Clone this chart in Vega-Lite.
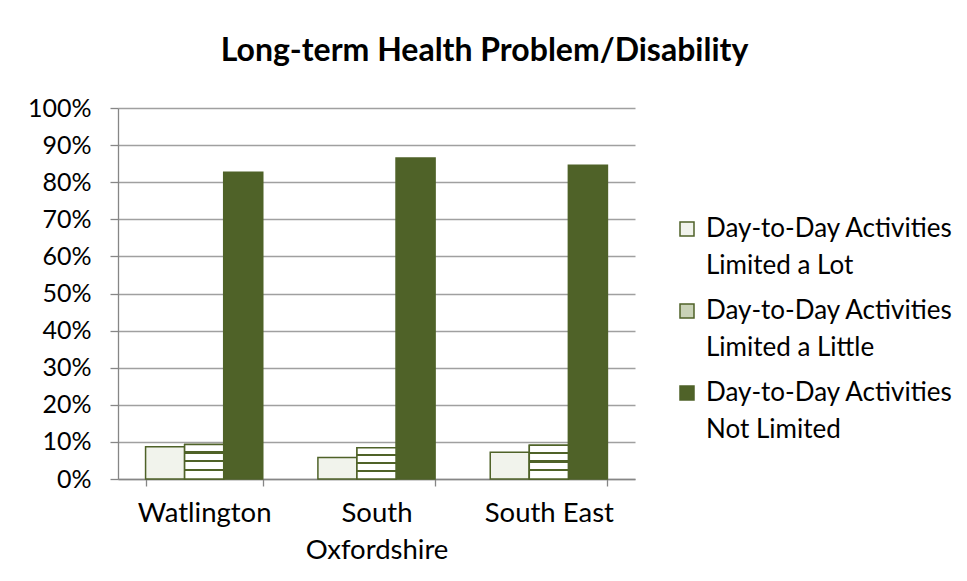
{
  "$schema": "https://vega.github.io/schema/vega-lite/v6.json",
  "autosize": "none",
  "width": 517,
  "height": 371,
  "padding": {"left": 118, "top": 108, "right": 332, "bottom": 102},
  "background": "white",
  "config": {
    "font": "Lato",
    "view": {"stroke": null},
    "style": {"guide-label": {"lineHeight": 37}},
    "axis": {"labelFont": "Lato", "labelColor": "#000000", "domainColor": "#868686", "tickColor": "#868686", "gridColor": "#a0a0a0", "domainWidth": 1.3, "tickWidth": 1.3, "gridWidth": 1.3}
  },
  "title": {
    "text": "Long-term Health Problem/Disability",
    "font": "Lato",
    "fontSize": 32,
    "fontWeight": "bold",
    "color": "#000000",
    "anchor": "middle",
    "frame": "group",
    "dx": 108,
    "offset": 28
  },
  "data": {
    "values": [
      {"area": "Watlington", "cat": "Day-to-Day Activities Limited a Lot", "value": 8.7},
      {"area": "Watlington", "cat": "Day-to-Day Activities Limited a Little", "value": 9.3},
      {"area": "Watlington", "cat": "Day-to-Day Activities Not Limited", "value": 82.7},
      {"area": "South Oxfordshire", "cat": "Day-to-Day Activities Limited a Lot", "value": 5.8},
      {"area": "South Oxfordshire", "cat": "Day-to-Day Activities Limited a Little", "value": 8.4},
      {"area": "South Oxfordshire", "cat": "Day-to-Day Activities Not Limited", "value": 86.5},
      {"area": "South East", "cat": "Day-to-Day Activities Limited a Lot", "value": 7.2},
      {"area": "South East", "cat": "Day-to-Day Activities Limited a Little", "value": 9.1},
      {"area": "South East", "cat": "Day-to-Day Activities Not Limited", "value": 84.6}
    ]
  },
  "encoding": {
    "x": {
      "field": "area",
      "type": "nominal",
      "sort": ["Watlington", "South Oxfordshire", "South East"],
      "scale": {"paddingInner": 0.32, "paddingOuter": 0.16},
      "axis": {
        "title": null,
        "labelAngle": 0,
        "labelFontSize": 27.5,
        "labelPadding": 13,
        "labelLineHeight": 37,
        "labelExpr": "datum.label == 'South Oxfordshire' ? ['South', 'Oxfordshire'] : datum.label",
        "tickBand": "extent",
        "tickSize": 7,
        "grid": false
      }
    },
    "xOffset": {
      "field": "cat",
      "type": "nominal",
      "sort": ["Day-to-Day Activities Limited a Lot", "Day-to-Day Activities Limited a Little", "Day-to-Day Activities Not Limited"],
      "scale": {"paddingInner": 0, "paddingOuter": 0}
    },
    "y": {
      "field": "value",
      "type": "quantitative",
      "scale": {"domain": [0, 100], "nice": false},
      "axis": {
        "title": null,
        "values": [0, 10, 20, 30, 40, 50, 60, 70, 80, 90, 100],
        "labelExpr": "datum.value + '%'",
        "labelFontSize": 25,
        "tickSize": 8,
        "labelPadding": 19,
        "grid": true
      }
    }
  },
  "layer": [
    {
      "mark": {"type": "bar", "stroke": "#4f6228", "strokeWidth": 1.5},
      "encoding": {
        "fill": {
          "field": "cat",
          "type": "nominal",
          "sort": ["Day-to-Day Activities Limited a Lot", "Day-to-Day Activities Limited a Little", "Day-to-Day Activities Not Limited"],
          "scale": {"range": ["#f1f3ec", "#c9d2b7", "#4f6228"]},
          "legend": {
            "title": null,
            "orient": "none",
            "legendX": 556,
            "legendY": 108,
            "symbolType": "square",
            "symbolSize": 196,
            "symbolStrokeColor": "#4f6228",
            "symbolStrokeWidth": 1.5,
            "labelFont": "Lato",
            "labelFontSize": 26,
            "labelColor": "#000000",
            "labelLimit": 400,
            "labelOffset": 6,
            "rowPadding": 19,
            "labelExpr": "[slice(datum.label, 0, 21), slice(datum.label, 22)]"
          }
        }
      }
    },
    {
      "transform": [{"filter": "datum.cat == 'Day-to-Day Activities Limited a Little'"}],
      "mark": {
        "type": "bar",
        "stroke": "#4f6228",
        "strokeWidth": 1.5,
        "fill": {
          "gradient": "linear", "x1": 0, "y1": 0, "x2": 0, "y2": 1,
          "stops": [
            {"offset": 0, "color": "#ffffff"},
            {"offset": 0.2, "color": "#ffffff"}, {"offset": 0.2, "color": "#4f6228"},
            {"offset": 0.27, "color": "#4f6228"}, {"offset": 0.27, "color": "#ffffff"},
            {"offset": 0.45, "color": "#ffffff"}, {"offset": 0.45, "color": "#4f6228"},
            {"offset": 0.52, "color": "#4f6228"}, {"offset": 0.52, "color": "#ffffff"},
            {"offset": 0.7, "color": "#ffffff"}, {"offset": 0.7, "color": "#4f6228"},
            {"offset": 0.77, "color": "#4f6228"}, {"offset": 0.77, "color": "#ffffff"},
            {"offset": 1, "color": "#ffffff"}
          ]
        }
      }
    }
  ]
}
